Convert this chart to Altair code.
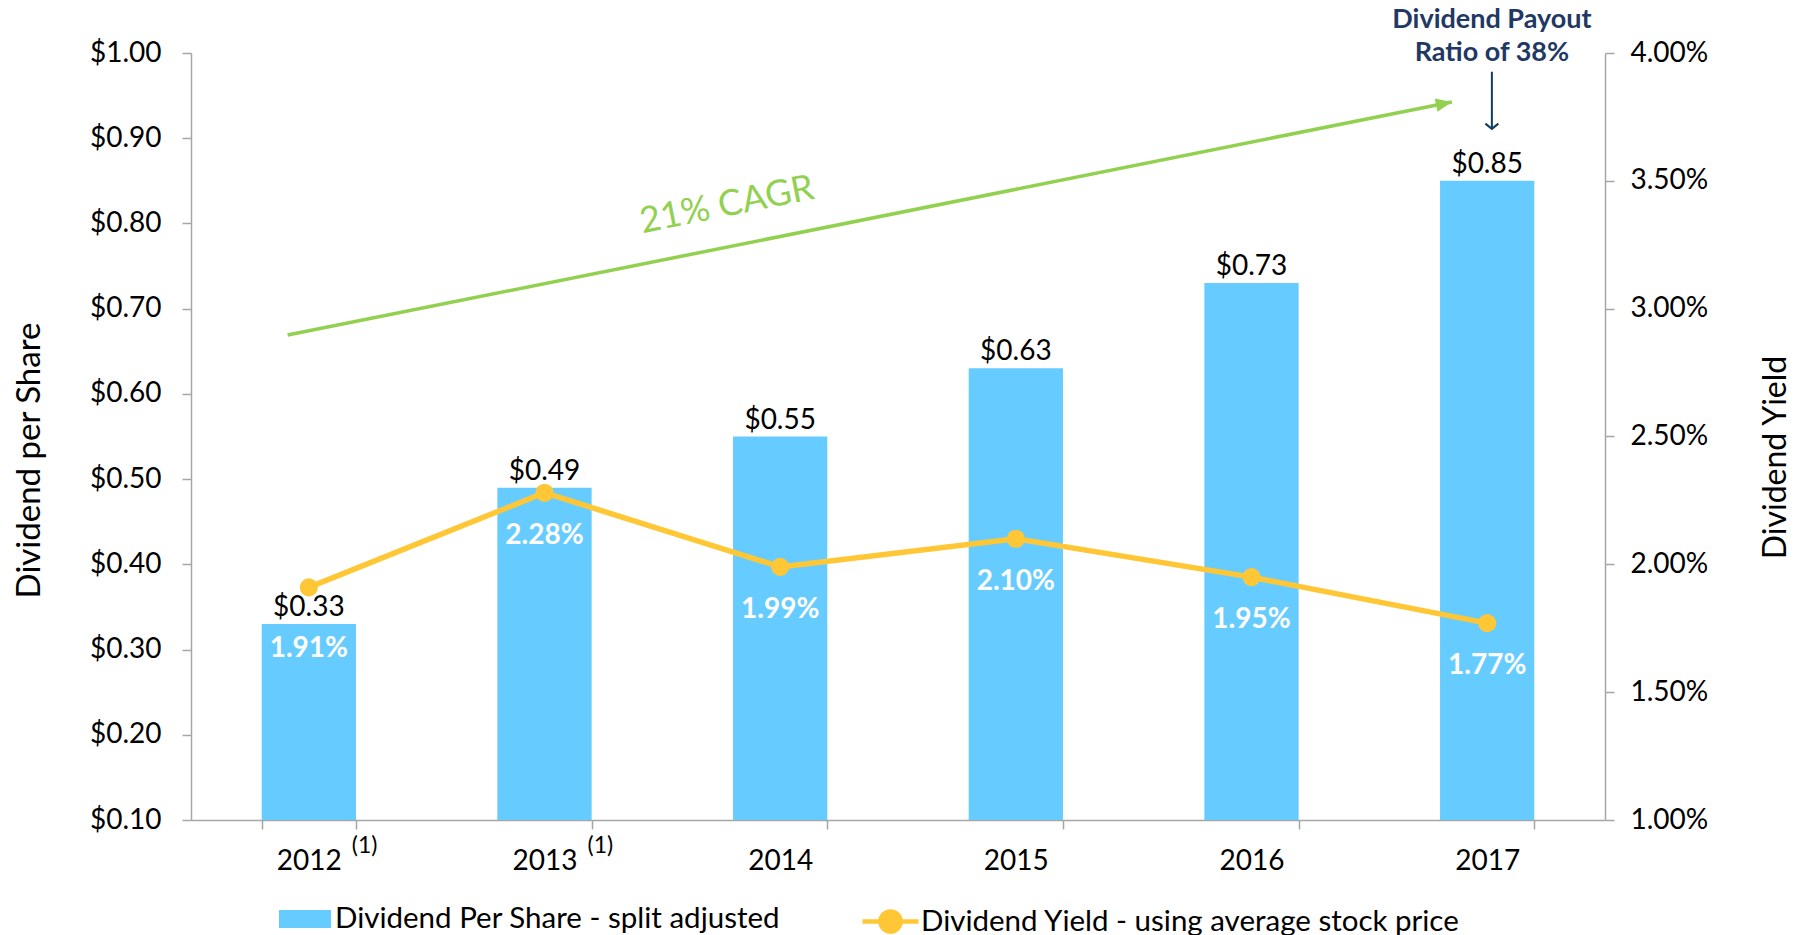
import math
import altair as alt
import pandas as pd

# ---------------- data ----------------
years = ["2012", "2013", "2014", "2015", "2016", "2017"]
dividend_per_share = [0.33, 0.49, 0.55, 0.63, 0.73, 0.85]
dividend_yield_pct = [1.91, 2.28, 1.99, 2.10, 1.95, 1.77]

bar_series = "Dividend Per Share - split adjusted"
line_series = "Dividend Yield - using average stock price"

footnote_years = ["2012", "2013"]
footnote_mark = "(1)"

# annotations, in (category position 0..6, dividend $) units
cagr_label = "21% CAGR"
cagr_label_at = [2.274, 0.8216]
cagr_from = [0.41, 0.669]
cagr_to = [5.35, 0.9425]
payout_lines = ["Dividend Payout", "Ratio of 38%"]
payout_line_y = [1.0387, 1.0]
payout_x = 5.52
payout_arrow_y = [0.978, 0.911]

# ---------------- styling ----------------
W, H = 1414, 767
FONT = "Lato"
BLUE = "#66CCFF"
GOLD = "#FFC735"
GREEN = "#92D050"
NAVY = "#1F3864"
ARROW = "#123D5E"
GRAY = "#A6A6A6"

df = pd.DataFrame({"Year": years, "DPS": dividend_per_share, "YieldPct": dividend_yield_pct})
base = alt.Chart(df).transform_calculate(
    Yield="datum.YieldPct / 100",
    BarSeries=f"'{bar_series}'",
    LineSeries=f"'{line_series}'",
)

x_enc = alt.X(
    "Year:N",
    scale=alt.Scale(type="band", domain=years, paddingInner=0.6, paddingOuter=0.3),
    axis=alt.Axis(
        title=None, orient="bottom", labelAngle=0, tickBand="extent",
        tickSize=9, tickWidth=1.5, tickColor=GRAY, domainColor=GRAY, domainWidth=1.5,
        labelPadding=18, labelFontSize=28, labelFont=FONT, labelColor="black",
    ),
)

y_left = alt.Y(
    "DPS:Q",
    scale=alt.Scale(domain=[0.1, 1.0], nice=False, zero=False),
    axis=alt.Axis(
        orient="left", values=[round(0.1 * i, 2) for i in range(1, 11)], format="$.2f",
        grid=False, tickSize=9, tickWidth=1.5, tickColor=GRAY, domainColor=GRAY, domainWidth=1.5,
        labelPadding=21, labelFontSize=28, labelFont=FONT, labelColor="black",
        title="Dividend per Share", titleFont=FONT, titleFontSize=33, titleFontWeight="normal",
        titleColor="black", titleAngle=270, titleX=-162, titleY=407,
        titleBaseline="middle", titleAlign="center",
    ),
)

y_right = alt.Y(
    "Yield:Q",
    scale=alt.Scale(domain=[0.01, 0.04], nice=False, zero=False),
    axis=alt.Axis(
        orient="right", values=[0.01, 0.015, 0.02, 0.025, 0.03, 0.035, 0.04], format=".2%",
        grid=False, tickSize=9, tickWidth=1.5, tickColor=GRAY, domainColor=GRAY, domainWidth=1.5,
        labelPadding=16, labelFontSize=28, labelFont=FONT, labelColor="black",
        title="Dividend Yield", titleFont=FONT, titleFontSize=32, titleFontWeight="normal",
        titleColor="black", titleAngle=270, titleX=170, titleY=404,
        titleBaseline="middle", titleAlign="center",
    ),
)

bars = base.mark_bar().encode(
    x=x_enc,
    y=y_left,
    y2=alt.datum(0.1),
    fill=alt.Fill(
        "BarSeries:N",
        scale=alt.Scale(domain=[bar_series], range=[BLUE]),
        legend=alt.Legend(
            title=None, orient="none", legendX=88, legendY=840,
            symbolType="M-1,-0.35H1V0.35H-1Z", symbolSize=2704, symbolStrokeWidth=0,
            labelFontSize=29.5, labelFont=FONT, labelColor="black", labelOffset=4, labelLimit=1000,
        ),
    ),
)

bar_text = base.mark_text(baseline="bottom", dy=-2, fontSize=28, font=FONT, color="black").encode(
    x=x_enc, y=y_left, text=alt.Text("DPS:Q", format="$.2f")
)

foot_df = pd.DataFrame({"Year": footnote_years, "mark": [footnote_mark] * len(footnote_years)})
footnotes = alt.Chart(foot_df).mark_text(
    align="left", baseline="middle", dx=43, fontSize=23, font=FONT, color="black"
).encode(x=x_enc, y=alt.value(H + 26), text="mark:N")

left = alt.layer(bars, bar_text, footnotes)

line = base.mark_line(strokeWidth=5.5).encode(
    x=x_enc,
    y=y_right,
    stroke=alt.Stroke(
        "LineSeries:N",
        scale=alt.Scale(domain=[line_series], range=[GOLD]),
        legend=alt.Legend(
            title=None, orient="none", legendX=669, legendY=838,
            symbolType="M-1,0H1M-0.36,0A0.36,0.36,0,1,0,0.36,0A0.36,0.36,0,1,0,-0.36,0Z",
            symbolSize=3136, symbolStrokeWidth=4.5, symbolFillColor=GOLD,
            labelFontSize=29.5, labelFont=FONT, labelColor="black", labelOffset=0, labelLimit=1000,
        ),
    ),
)
points = base.mark_circle(size=330, color=GOLD, opacity=1).encode(x=x_enc, y=y_right)

ylab_main = base.mark_text(fontSize=28, fontWeight="bold", font=FONT, color="white", dy=43).encode(
    x=x_enc, y=y_right, text=alt.Text("Yield:Q", format=".2%")
).transform_filter("datum.Year != '2012'")
ylab_first = base.mark_text(fontSize=28, fontWeight="bold", font=FONT, color="white", dy=62).encode(
    x=x_enc, y=y_right, text=alt.Text("Yield:Q", format=".2%")
).transform_filter("datum.Year == '2012'")

right = alt.layer(line, points, ylab_main, ylab_first)

main = alt.layer(left, right).resolve_scale(y="independent")

# ---------------- annotations ----------------
xa = alt.X("x:Q", scale=alt.Scale(domain=[0, 6], nice=False, zero=False), axis=None)
ya = alt.Y("y:Q", scale=alt.Scale(domain=[0.1, 1.0], nice=False, zero=False), axis=None)

dx_px = (cagr_to[0] - cagr_from[0]) / 6 * W
dy_px = (cagr_to[1] - cagr_from[1]) / 0.9 * H
cagr_angle = 360 - math.degrees(math.atan2(dy_px, dx_px))

cagr_df = pd.DataFrame({"x": [cagr_from[0]], "y": [cagr_from[1]], "x2": [cagr_to[0]], "y2": [cagr_to[1]]})
cagr_line = alt.Chart(cagr_df).mark_rule(color=GREEN, strokeWidth=3.5).encode(
    x=xa, y=ya, x2="x2:Q", y2="y2:Q"
)
cagr_head = alt.Chart(pd.DataFrame({"x": [cagr_to[0]], "y": [cagr_to[1]]})).mark_point(
    shape="M0,0L-2,-0.85L-2,0.85Z", filled=True, color=GREEN, size=256, angle=cagr_angle, opacity=1
).encode(x=xa, y=ya)
cagr_txt = alt.Chart(pd.DataFrame({"x": [cagr_label_at[0]], "y": [cagr_label_at[1]], "t": [cagr_label]})).mark_text(
    angle=cagr_angle, fontSize=36, font=FONT, color=GREEN, baseline="middle", align="center"
).encode(x=xa, y=ya, text="t:N")

pay_rule = alt.Chart(pd.DataFrame({"x": [payout_x], "y": [payout_arrow_y[0]], "y2": [payout_arrow_y[1]]})).mark_rule(
    color=ARROW, strokeWidth=2
).encode(x=xa, y=ya, y2="y2:Q")
pay_head = alt.Chart(pd.DataFrame({"x": [payout_x], "y": [payout_arrow_y[1]]})).mark_point(
    shape="M-1,-0.8L0,0L1,-0.8", filled=False, color=ARROW, strokeWidth=2, size=169, opacity=1
).encode(x=xa, y=ya)
pay_txt = alt.Chart(pd.DataFrame({"x": [payout_x] * 2, "y": payout_line_y, "t": payout_lines})).mark_text(
    fontSize=27, fontWeight="bold", font=FONT, color=NAVY, baseline="middle", align="center"
).encode(x=xa, y=ya, text="t:N")

annot = alt.layer(cagr_line, cagr_head, cagr_txt, pay_rule, pay_head, pay_txt)

chart = (
    alt.layer(main, annot)
    .resolve_scale(x="independent", y="independent")
    .properties(
        width=W, height=H,
        padding={"left": 191, "top": 53, "right": 199, "bottom": 115},
        autosize=alt.AutoSizeParams(type="none"),
        background="white",
    )
    .configure_view(stroke=None)
)

chart.save("out.html", embed_options={"renderer": "svg", "actions": False})
